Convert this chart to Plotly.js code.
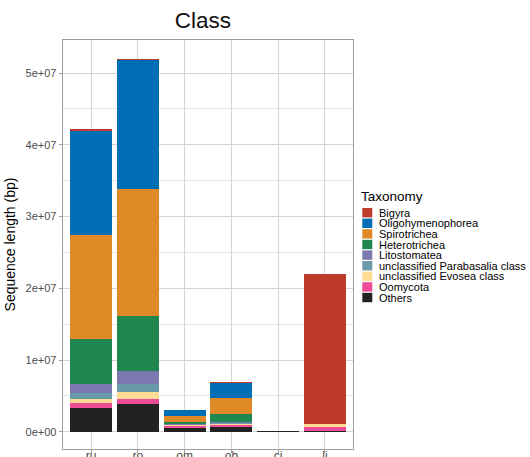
<!DOCTYPE html>
<html>
<head>
<meta charset="utf-8">
<script src="https://cdn.plot.ly/plotly-3.0.1.min.js"></script>
<style>
html,body{margin:0;padding:0;overflow:hidden;background:#fff;}
#chart{width:530px;height:480px;}
</style>
</head>
<body>
<div id="chart"></div>
<script>
// ---- data ----
var samples = ["ru", "ro", "om", "ob", "ci", "li"];
var taxa = ["Bigyra", "Oligohymenophorea", "Spirotrichea", "Heterotrichea", "Litostomatea",
            "unclassified Parabasalia class", "unclassified Evosea class", "Oomycota", "Others"];
var colors = ["#BE3A2B", "#006EB5", "#E08A27", "#1F8650", "#7C79B1",
              "#6A9AAA", "#FEDC93", "#EE4B98", "#222222"];
var Bigyra            = [0.23e6, 0.14e6, 0.09e6, 0.10e6, 0, 20.99e6];
var Oligohymenophorea = [14.5e6, 18.0e6, 0.79e6, 2.09e6, 0, 0];
var Spirotrichea      = [14.5e6, 17.7e6, 0.85e6, 2.27e6, 0, 0];
var Heterotrichea     = [6.27e6, 7.7e6, 0.30e6, 1.16e6, 0, 0];
var Litostomatea      = [1.28e6, 1.83e6, 0.05e6, 0.07e6, 0, 0];
var Parabasalia       = [0.77e6, 1.10e6, 0.10e6, 0.12e6, 0, 0];
var Evosea            = [0.60e6, 0.97e6, 0.12e6, 0.14e6, 0, 0.47e6];
var Oomycota          = [0.72e6, 0.72e6, 0.20e6, 0.32e6, 0, 0.55e6];
var Others            = [3.30e6, 3.85e6, 0.56e6, 0.65e6, 0.06e6, 0.05e6];
var seriesValues = [Bigyra, Oligohymenophorea, Spirotrichea, Heterotrichea, Litostomatea,
                    Parabasalia, Evosea, Oomycota, Others];
var yTickVals = [0, 1e7, 2e7, 3e7, 4e7, 5e7];
var yTickText = ["0e+00", "1e+07", "2e+07", "3e+07", "4e+07", "5e+07"];
var yMinorVals = [5e6, 15e6, 25e6, 35e6, 45e6];

// ---- layout geometry (pixels) ----
var W = 530, H = 480;
var L = 63, R = 353, T = 40, B = 449;
function px2x(p){ return (p - L) / (R - L); }
function py2y(p){ return (B - p) / (B - T); }

var traces = [];
for (var i = taxa.length - 1; i >= 0; i--) {
  traces.push({
    type: "bar",
    name: taxa[i],
    x: samples,
    y: seriesValues[i],
    marker: {color: colors[i], line: {width: 0}},
    hoverinfo: "x+y+name"
  });
}

var font = "Liberation Sans, Arial, Helvetica, sans-serif";
var shapes = [], annotations = [];
var legTop = 212.7, legStep = 10.6;
annotations.push({
  xref: "paper", yref: "paper", x: px2x(361), y: py2y(196),
  xanchor: "left", yanchor: "middle", showarrow: false, borderpad: 0, borderwidth: 0,
  text: "Taxonomy", font: {family: font, size: 13.5, color: "#000"}
});
for (var j = 0; j < taxa.length; j++) {
  var cy = legTop + j * legStep;
  shapes.push({
    type: "rect", xref: "paper", yref: "paper",
    x0: px2x(362.3), x1: px2x(372.3), y0: py2y(cy + 4.7), y1: py2y(cy - 4.7),
    fillcolor: colors[j], line: {width: 0}
  });
  annotations.push({
    xref: "paper", yref: "paper", x: px2x(378.5), y: py2y(cy),
    xanchor: "left", yanchor: "middle", showarrow: false, borderpad: 0, borderwidth: 0,
    text: taxa[j], font: {family: font, size: 11, color: "#000"}
  });
}

var layout = {
  width: W, height: H,
  margin: {l: L, r: W - R, t: T, b: H - B, pad: 0},
  paper_bgcolor: "#fff", plot_bgcolor: "#fff",
  barmode: "stack", bargap: 0.1,
  showlegend: false,
  font: {family: font, size: 11, color: "#4d4d4d"},
  title: {
    text: "Class", font: {family: font, size: 22.5, color: "#111"},
    x: 203 / W, xanchor: "center", xref: "container",
    y: 1 - 20 / H, yanchor: "middle", yref: "container"
  },
  xaxis: {
    type: "category", range: [-0.6, 5.6],
    showgrid: true, gridcolor: "#d4d4d4", gridwidth: 1,
    showline: true, mirror: true, linecolor: "#9e9e9e", linewidth: 1.3,
    ticks: "outside", ticklen: 3, tickcolor: "#9e9e9e", tickwidth: 1,
    ticklabelstandoff: -8,
    tickfont: {family: font, size: 12, color: "#4d4d4d"},
    fixedrange: true
  },
  yaxis: {
    range: [-2.41e6, 54.62e6],
    tickmode: "array", tickvals: yTickVals, ticktext: yTickText,
    showgrid: true, gridcolor: "#d4d4d4", gridwidth: 1,
    zeroline: false,
    minor: {tickmode: "array", tickvals: yMinorVals, showgrid: true, gridcolor: "#dedede", gridwidth: 0.8, ticks: ""},
    showline: true, mirror: true, linecolor: "#9e9e9e", linewidth: 1.3,
    ticks: "outside", ticklen: 3, tickcolor: "#9e9e9e", tickwidth: 1,
    tickfont: {family: font, size: 11, color: "#4d4d4d"},
    title: {text: "Sequence length (bp)", font: {family: font, size: 14, color: "#000"}, standoff: 6},
    fixedrange: true
  },
  shapes: shapes,
  annotations: annotations
};

Plotly.newPlot("chart", traces, layout, {displayModeBar: false, staticPlot: true});
</script>
</body>
</html>
